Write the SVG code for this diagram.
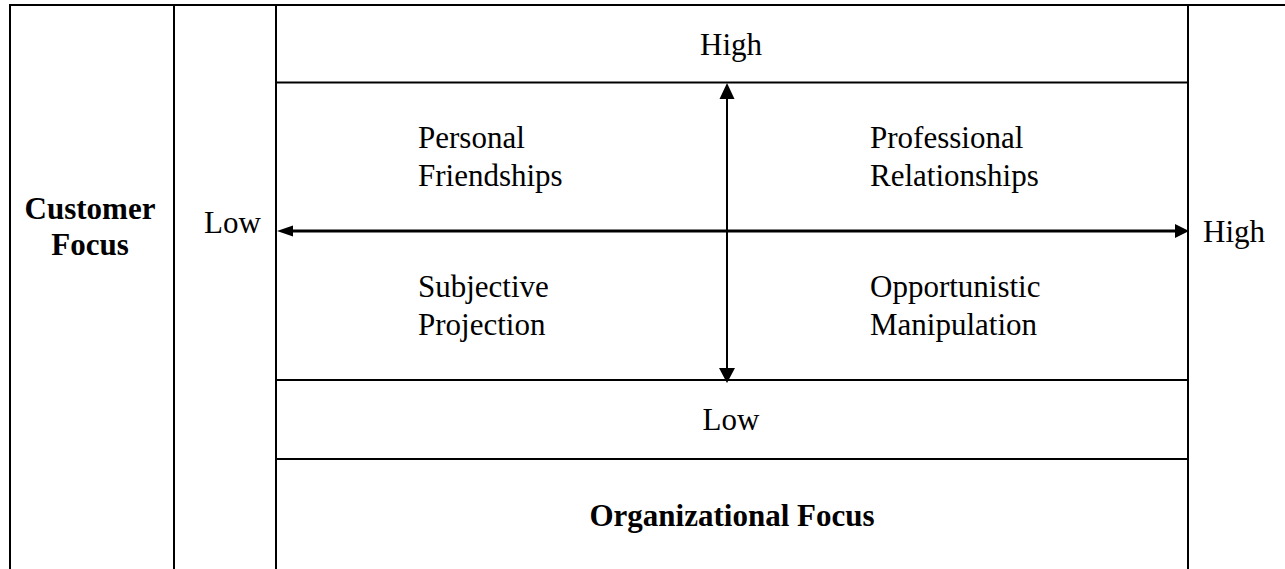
<svg xmlns="http://www.w3.org/2000/svg" width="1285" height="569" viewBox="0 0 1285 569">
<style>
.grid{stroke:#000;stroke-width:2;fill:none}
.t{font-family:"Liberation Serif","Times New Roman",serif;font-size:31px;fill:#000}
.b{font-weight:bold}
.c{text-anchor:middle}
.ax{stroke:#000;fill:none}
.ah{fill:#000}
</style>
<rect width="1285" height="569" fill="#fff"/>
<g id="grid">
<line class="grid" x1="9" y1="5" x2="1285" y2="5"/>
<line class="grid" x1="10" y1="4" x2="10" y2="569"/>
<line class="grid" x1="174" y1="5" x2="174" y2="569"/>
<line class="grid" x1="276" y1="5" x2="276" y2="569"/>
<line class="grid" x1="1188" y1="5" x2="1188" y2="569"/>
<line class="grid" x1="276" y1="82.5" x2="1188" y2="82.5"/>
<line class="grid" x1="276" y1="380" x2="1188" y2="380"/>
<line class="grid" x1="276" y1="459" x2="1188" y2="459"/>
</g>
<g id="customer-focus"><text class="t b c" x="90" y="219">Customer</text><text class="t b c" x="90" y="255">Focus</text></g>
<g id="low-left"><text class="t" x="204" y="233">Low</text></g>
<g id="high-right"><text class="t" x="1203" y="242">High</text></g>
<g id="high-top"><text class="t c" x="731" y="55">High</text></g>
<g id="low-bottom"><text class="t c" x="731" y="430">Low</text></g>
<g id="org-focus"><text class="t b c" x="732" y="526">Organizational Focus</text></g>
<g id="personal-friendships"><text class="t" x="418" y="148">Personal</text><text class="t" x="418" y="186">Friendships</text></g>
<g id="professional-relationships"><text class="t" x="870" y="148">Professional</text><text class="t" x="870" y="186">Relationships</text></g>
<g id="subjective-projection"><text class="t" x="418" y="297">Subjective</text><text class="t" x="418" y="335">Projection</text></g>
<g id="opportunistic-manipulation"><text class="t" x="870" y="297">Opportunistic</text><text class="t" x="870" y="335">Manipulation</text></g>
<g id="connectors">
<line class="ax" x1="290" y1="231" x2="1177" y2="231" stroke-width="3.2"/>
<polygon class="ah" points="277,231 293,225.5 293,236.5"/>
<polygon class="ah" points="1189,231 1175,224 1175,238"/>
<line class="ax" x1="727" y1="97" x2="727" y2="370" stroke-width="2"/>
<polygon class="ah" points="727,83 719.5,99 734.5,99"/>
<polygon class="ah" points="727,383 719,368 735,368"/>
</g>
</svg>
